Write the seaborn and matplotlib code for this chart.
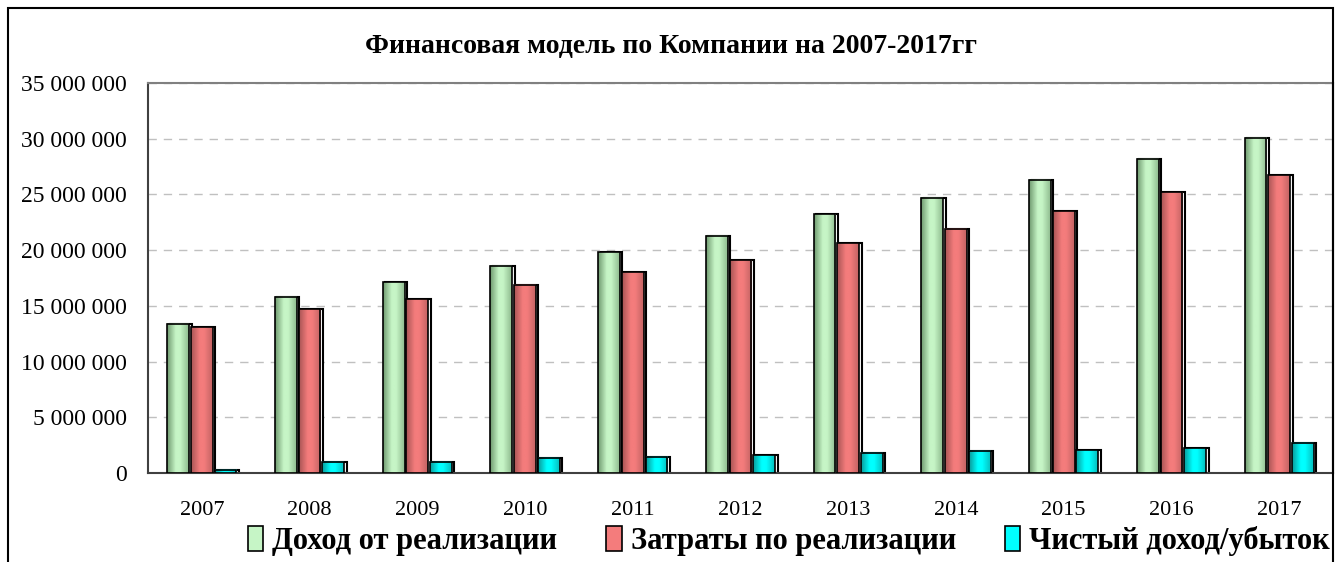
import numpy as np
import pandas as pd
import seaborn as sns
from matplotlib import pyplot as plt
from matplotlib.patches import Rectangle, Patch
from matplotlib.colors import to_rgb
from matplotlib.transforms import ScaledTranslation
from matplotlib.ticker import FuncFormatter, FixedLocator

# данные
years = ['2007', '2008', '2009', '2010', '2011', '2012', '2013', '2014', '2015', '2016', '2017']
income = [13.4, 15.8, 17.1, 18.6, 19.8, 21.3, 23.2, 24.7, 26.3, 28.2, 30.1]
costs = [13.1, 14.7, 15.6, 16.9, 18.0, 19.1, 20.6, 21.9, 23.5, 25.2, 26.7]
net = [0.27, 1.0, 1.0, 1.37, 1.45, 1.6, 1.8, 2.0, 2.06, 2.24, 2.7]
series = ['Доход от реализации', 'Затраты по реализации', 'Чистый доход/убыток']
title = 'Финансовая модель по Компании на 2007-2017гг'

colors = ['#c6f5c6', '#f47c7c', '#00ffff']
shades = ['#6f9a6f', '#a85555', '#0a9a9a']

df = pd.DataFrame({'year': years * 3,
                   'value': np.array(income + costs + net) * 1e6,
                   'series': [s for s in series for _ in years]})

sns.set_style('white')
plt.rcParams['font.family'] = ['Liberation Serif', 'DejaVu Serif']
plt.rcParams['text.color'] = 'black'
plt.rcParams['xtick.color'] = 'black'
plt.rcParams['ytick.color'] = 'black'

fig = plt.figure(figsize=(13.38, 5.62), dpi=100)
ax = fig.add_axes([148 / 1338, 1 - 473 / 562, (1333 - 148) / 1338, (473 - 83) / 562])

sns.barplot(data=df, x='year', y='value', hue='series', palette=colors,
            width=0.66, gap=0.08, ax=ax, legend=False, zorder=3)

# градиент и тень на столбиках
shadow_off = ScaledTranslation(2.5 / 100, 0, fig.dpi_scale_trans)
for cont, c, s in zip(ax.containers, colors, shades):
    light = np.array(to_rgb(c))
    dark = np.array(to_rgb(s))
    t = np.linspace(0, 1, 60)
    k = np.interp(t, [0, 0.4, 0.6, 1], [0, 1, 1, 0.35])
    img = (dark[None, :] * (1 - k[:, None]) + light[None, :] * k[:, None])[None, :, :]
    for p in cont.patches:
        x, w, h = p.get_x(), p.get_width(), p.get_height()
        ax.add_patch(Rectangle((x, 0), w, h, facecolor='white', edgecolor='black',
                               lw=1.5, transform=ax.transData + shadow_off, zorder=2))
        ax.imshow(img, extent=[x, x + w, 0, h], aspect='auto', zorder=3.5,
                  interpolation='bilinear')
        p.set_facecolor('none')
        p.set_edgecolor('black')
        p.set_linewidth(1.2)
        p.set_zorder(4)

ax.set_xlim(-0.5, len(years) - 0.5)
ax.set_ylim(0, 35e6)
ax.set_yticks(np.arange(0, 35e6 + 1, 5e6))
ax.yaxis.set_major_formatter(FuncFormatter(lambda v, _: f'{int(v):,}'.replace(',', ' ')))
ax.yaxis.grid(True, linestyle=(0, (6, 5)), color='#c0c0c0', lw=1, zorder=0)
ax.set_axisbelow(True)
ax.set_xlabel('')
ax.set_ylabel('')

ax.xaxis.set_minor_locator(FixedLocator(np.arange(-0.5, len(years), 1)))
ax.tick_params(axis='x', which='major', length=0, pad=20, labelsize=16)
ax.tick_params(axis='x', which='minor', length=7, direction='out', color='#404040', width=1.2)
ax.tick_params(axis='y', length=6, direction='out', color='#404040', width=1.2, pad=9, labelsize=17)

ax.spines['top'].set_color('#808080')
ax.spines['right'].set_color('black')
ax.spines['left'].set_color('#404040')
ax.spines['bottom'].set_color('#404040')
for sp in ax.spines.values():
    sp.set_linewidth(1.5)

fig.text(671 / 1338, 1 - 47 / 562, title, ha='center', va='center', fontsize=20, fontweight='bold')

handles = [Patch(facecolor=c, edgecolor='black', lw=1.2) for c in colors]
fig.legend(handles, series, loc='center', bbox_to_anchor=(789 / 1338, 1 - 541 / 562),
           ncol=3, frameon=False, handlelength=0.5, handleheight=0.9, handletextpad=0.3,
           columnspacing=1.6, prop={'weight': 'bold', 'size': 22})

fig.patches.append(Rectangle((8 / 1338, -0.1), (1333 - 8) / 1338, 1.1 - 8 / 562,
                             transform=fig.transFigure, fill=False, edgecolor='black', lw=1.5))

fig.savefig('out.png', dpi=100)
